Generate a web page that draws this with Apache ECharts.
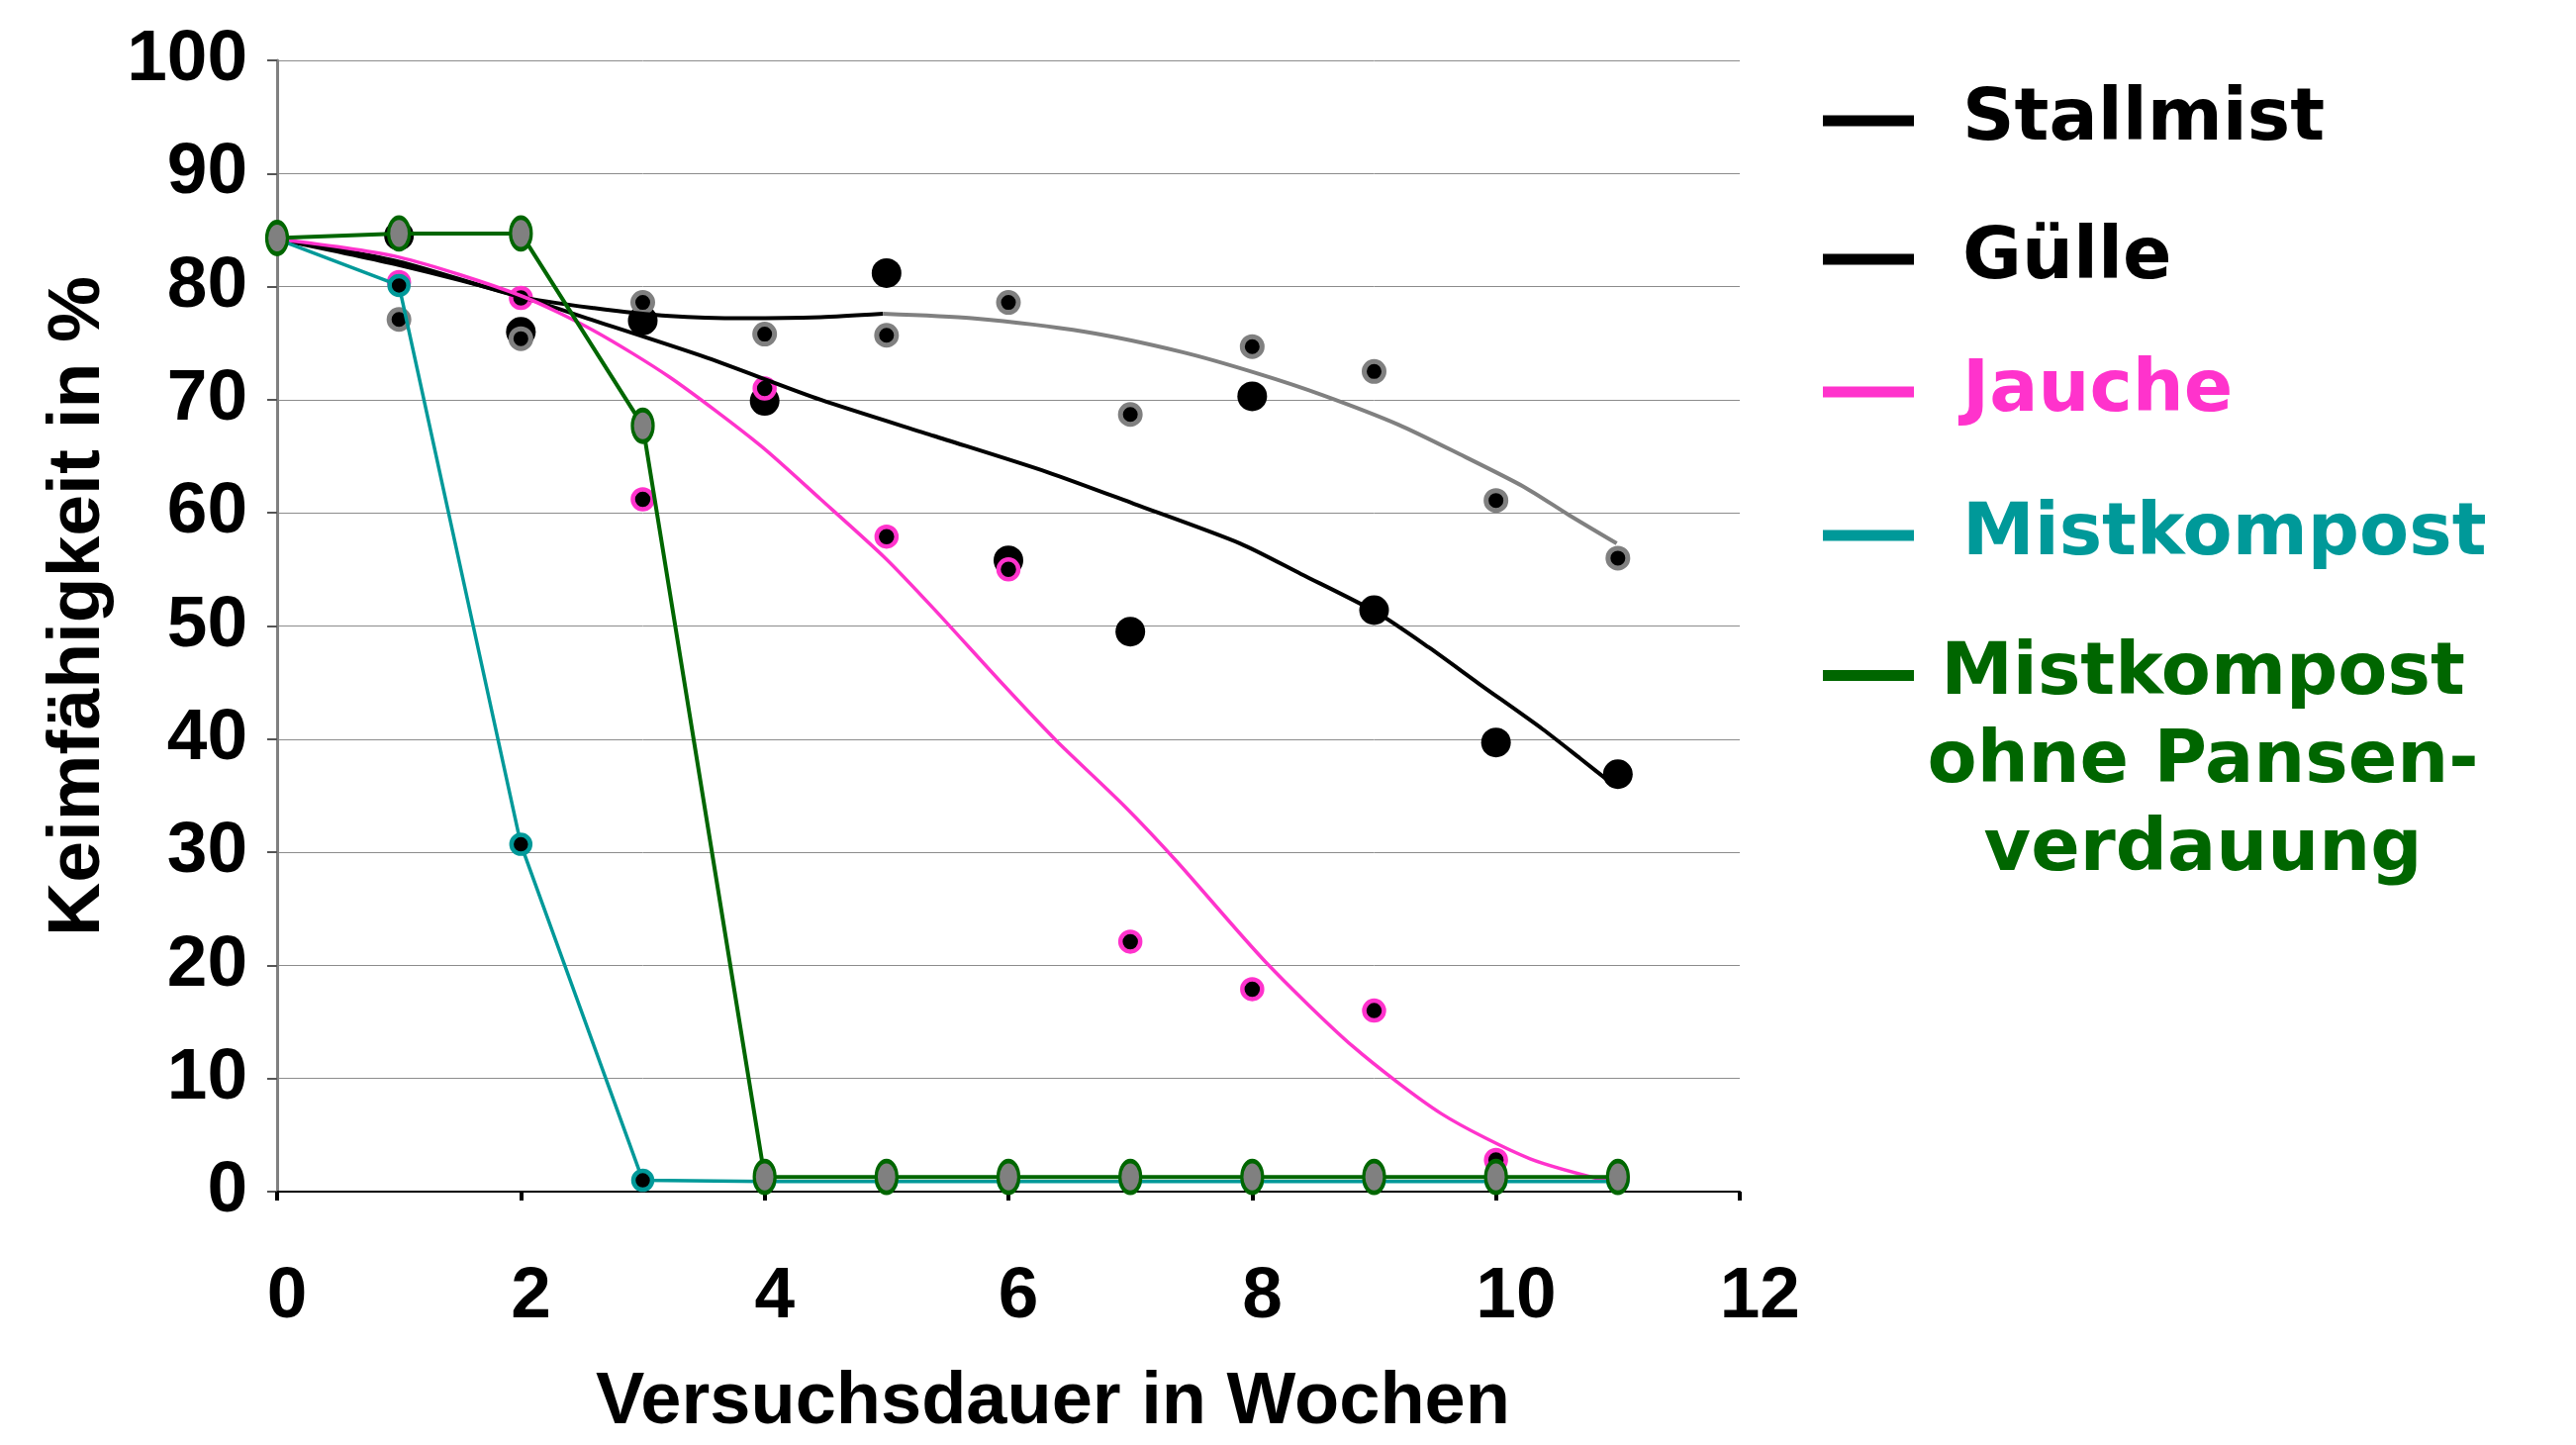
<!DOCTYPE html>
<html lang="de">
<head>
<meta charset="utf-8">
<title>Keimfähigkeit</title>
<script src="https://cdn.jsdelivr.net/npm/echarts@6.0.0/dist/echarts.min.js"></script>
<style>
  html, body { margin: 0; padding: 0; background: #fff; }
  #keimChart { width: 2603px; height: 1460px; }
</style>
</head>
<body>
<div id="keimChart"></div>
<script>
// Messwerte: Keimfähigkeit in % je Versuchswoche
const wochen = [0, 1, 2, 3, 4, 5, 6, 7, 8, 9, 10, 11];
const stallmistWerte = [null, 84.5, 76.0, 77.0, 69.9, 81.2, 55.8, 49.5, 70.3, 51.4, 39.7, 36.9];
const guelleWerte = [null, 77.1, 75.4, 78.6, 75.8, 75.7, 78.6, 68.7, 74.7, 72.5, 61.1, 56.0];
const jaucheWerte = [null, 80.4, 79.0, 61.2, 71.0, 57.9, 55.0, 22.1, 17.9, 16.0, 2.8, 1.2];
const mistkompostWerte = [84.2, 80.1, 30.7, 1.0, 0.9, 0.9, 0.9, 0.9, 0.9, 0.9, 0.9, 0.9];
const ohnePansenWerte = [84.3, 84.7, 84.7, 67.7, 1.3, 1.3, 1.3, 1.3, 1.3, 1.3, 1.3, 1.3];

// Trendkurven
const stallmistTrendX = [0, 1, 2, 2.6, 3.53, 4.46, 5.39, 6.32, 7.03, 7.9, 8.4, 9.02, 9.45, 9.86, 10.38, 10.69, 10.96];
const stallmistTrendY = [84.2, 81.9, 79.1, 77.0, 73.7, 70.0, 66.8, 63.6, 60.8, 57.3, 54.6, 51.2, 48.1, 44.9, 40.9, 38.3, 36.0];
const guelleTrend1X = [0, 1, 2, 2.6, 3.22, 3.84, 4.46, 4.97];
const guelleTrend1Y = [84.2, 82.2, 79.1, 78.1, 77.4, 77.2, 77.3, 77.6];
const guelleTrend2X = [4.97, 5.7, 6.63, 7.43, 8.05, 8.58, 9.2, 9.7, 10.23, 10.6, 10.99];
const guelleTrend2Y = [77.6, 77.2, 76.0, 74.2, 72.3, 70.4, 67.8, 65.2, 62.3, 59.8, 57.3];
const jaucheTrendX = [0, 1, 2, 2.6, 3.22, 3.96, 4.46, 4.99, 5.39, 5.95, 6.39, 6.95, 7.38, 8.11, 8.83, 9.55, 10.28, 11.0];
const jaucheTrendY = [84.2, 82.6, 79.2, 76.1, 72.0, 66.0, 61.2, 56.0, 51.5, 44.9, 39.9, 34.1, 29.2, 20.3, 12.8, 6.9, 2.9, 0.7];

// Achsenbeschriftung
const xTicks = [0, 2, 4, 6, 8, 10, 12];
const yTicks = [0, 10, 20, 30, 40, 50, 60, 70, 80, 90, 100];

const ROSA = '#ff33cc';
const TUERKIS = '#009999';
const GRUEN = '#006600';
const GRAU = '#808080';
const achsenFont = 'Liberation Sans, Arial, sans-serif';
const legendenFont = 'DejaVu Sans, Verdana, sans-serif';

function paare(xs, ys) {
  const out = [];
  for (let i = 0; i < xs.length; i++) {
    if (ys[i] !== null) out.push([xs[i], ys[i]]);
  }
  return out;
}

function legende(name, farbe, top, extra) {
  const l = {
    orient: 'vertical',
    left: 1842,
    top: top,
    padding: 0,
    itemWidth: 92,
    itemHeight: 11,
    icon: 'rect',
    selectedMode: false,
    data: [{ name: name, itemStyle: { color: farbe, borderWidth: 0, opacity: 1 } }],
    textStyle: {
      fontFamily: legendenFont,
      fontWeight: 'bold',
      fontSize: 73,
      lineHeight: 80,
      color: farbe,
      padding: [0, 0, 0, 44]
    }
  };
  return Object.assign(l, extra || {});
}

document.addEventListener('DOMContentLoaded', function() {
  const chartDom = document.getElementById('keimChart');
  const myChart = echarts.init(chartDom);

  // Trendlinie ohne Punkte
  const trend = function(name, xs, ys, farbe, breite) {
    return {
      name: name, type: 'line',
      data: paare(xs, ys),
      smooth: 0.25, showSymbol: false,
      lineStyle: { color: farbe, width: breite }
    };
  };

  const option = {
    animation: false,
    backgroundColor: '#fff',
    grid: { left: 280, right: 845, top: 61, bottom: 254 },
    legend: [
      legende('Stallmist', '#000', 82),
      legende('Gülle', '#000', 222),
      legende('Jauche', ROSA, 356),
      legende('Mistkompost', TUERKIS, 501),
      legende('Mistkompost ohne Pansenverdauung', GRUEN, 646, {
        formatter: function() {
          return '{a|Mistkompost}\n{a|ohne Pansen-}\n{a|verdauung}';
        },
        textStyle: {
          fontFamily: legendenFont,
          fontWeight: 'bold',
          fontSize: 73,
          color: GRUEN,
          padding: [178, 0, 0, 0],
          rich: {
            a: {
              fontFamily: legendenFont,
              fontWeight: 'bold',
              fontSize: 73,
              lineHeight: 89,
              color: GRUEN,
              width: 574,
              align: 'center'
            }
          }
        }
      })
    ],
    xAxis: {
      type: 'value',
      min: xTicks[0],
      max: xTicks[xTicks.length - 1],
      interval: 2,
      name: 'Versuchsdauer in Wochen',
      nameLocation: 'middle',
      nameGap: 177,
      nameTextStyle: {
        fontFamily: achsenFont, fontWeight: 'bold', fontSize: 74, color: '#000',
        padding: [0, 0, 0, 90]
      },
      axisLine: { lineStyle: { color: '#000', width: 2 } },
      axisTick: { length: 9, lineStyle: { color: '#000', width: 4 } },
      axisLabel: {
        margin: 70,
        fontFamily: achsenFont, fontWeight: 'bold', fontSize: 73, color: '#000',
        formatter: function(v) { return (v >= 10 ? '  ' : ' ') + v; }
      },
      splitLine: { show: false }
    },
    yAxis: {
      type: 'value',
      min: yTicks[0],
      max: yTicks[yTicks.length - 1],
      interval: 10,
      name: 'Keimfähigkeit in %',
      nameLocation: 'middle',
      nameGap: 125,
      nameTextStyle: {
        fontFamily: achsenFont, fontWeight: 'bold', fontSize: 75, color: '#000',
        padding: [0, 0, 0, 40]
      },
      axisLine: { show: true, lineStyle: { color: GRAU, width: 3 } },
      axisTick: { show: true, length: 10, lineStyle: { color: '#555', width: 2 } },
      axisLabel: {
        margin: 30,
        padding: [14, 0, 0, 0],
        fontFamily: achsenFont, fontWeight: 'bold', fontSize: 73, color: '#000'
      },
      splitLine: { show: true, lineStyle: { color: '#8c8c8c', width: 1 } }
    },
    series: [
      {
        name: 'Stallmist', type: 'scatter',
        data: paare(wochen, stallmistWerte),
        symbolSize: 30,
        itemStyle: { color: '#000', opacity: 1 }
      },
      {
        name: 'Gülle', type: 'scatter',
        data: paare(wochen, guelleWerte),
        symbolSize: 20,
        itemStyle: { color: '#000', borderColor: GRAU, borderWidth: 5, opacity: 1 }
      },
      {
        name: 'Jauche', type: 'scatter',
        data: paare(wochen, jaucheWerte),
        symbolSize: 20,
        itemStyle: { color: '#000', borderColor: ROSA, borderWidth: 4.5, opacity: 1 }
      },
      trend('Stallmist', stallmistTrendX, stallmistTrendY, '#000', 4),
      trend('Gülle', guelleTrend1X, guelleTrend1Y, '#000', 4),
      trend('Gülle', guelleTrend2X, guelleTrend2Y, GRAU, 4),
      trend('Jauche', jaucheTrendX, jaucheTrendY, ROSA, 3.5),
      {
        name: 'Mistkompost', type: 'line',
        data: paare(wochen, mistkompostWerte),
        symbol: 'circle', symbolSize: 19,
        lineStyle: { color: TUERKIS, width: 3.5 },
        itemStyle: { color: '#000', borderColor: TUERKIS, borderWidth: 4.5 }
      },
      {
        name: 'Mistkompost ohne Pansenverdauung', type: 'line',
        data: paare(wochen, ohnePansenWerte),
        symbol: 'circle', symbolSize: [21, 32],
        lineStyle: { color: GRUEN, width: 4 },
        itemStyle: { color: GRAU, borderColor: GRUEN, borderWidth: 4 }
      }
    ]
  };

  myChart.setOption(option);

  window.addEventListener('resize', function() {
    myChart.resize();
  });
});
</script>
</body>
</html>
